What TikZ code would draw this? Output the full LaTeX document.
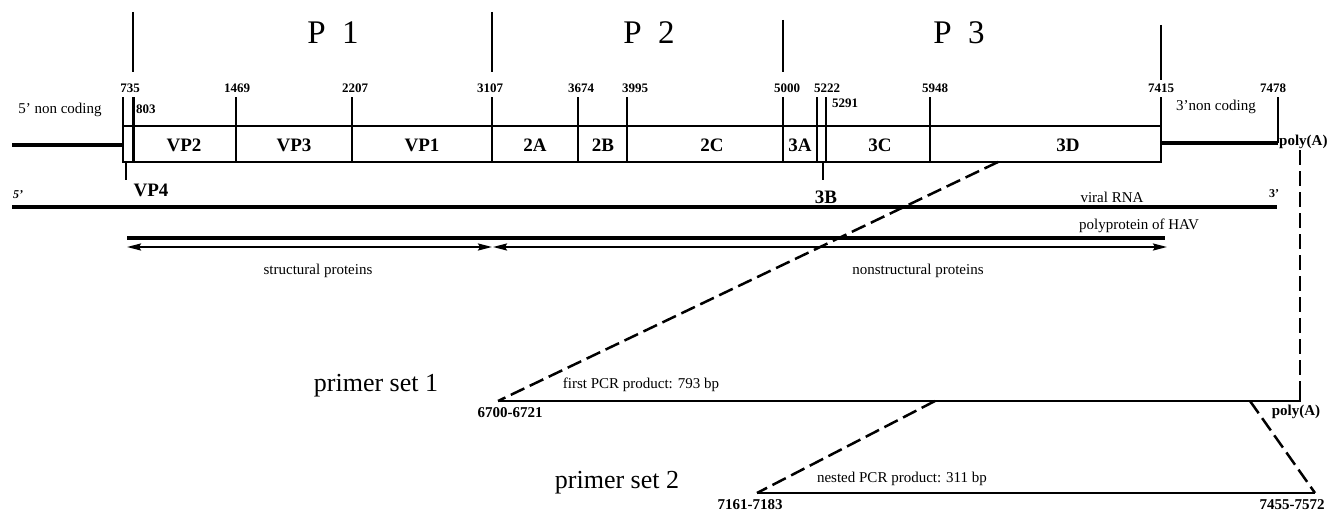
\documentclass[tikz,border=0pt]{standalone}
\usepackage{fontspec}
\setmainfont{Liberation Serif}
\usepackage{tikz}
\usetikzlibrary{arrows.meta}
\tikzset{
  num/.style={font=\fontsize{13}{13}\selectfont\bfseries, inner sep=0pt},
  seg/.style={font=\fontsize{19}{19}\selectfont\bfseries, inner sep=0pt},
  lbl/.style={font=\fontsize{15}{15}\selectfont, inner sep=0pt},
  big/.style={font=\fontsize{26}{26}\selectfont, inner sep=0pt},
  region/.style={font=\fontsize{33}{33}\selectfont, inner sep=0pt},
  site/.style={line width=2pt},
  rna/.style={line width=3.5pt},
  pcr/.style={line width=2.5pt, dash pattern=on 15pt off 6pt},
}
\begin{document}
\begin{tikzpicture}[x=1pt, y=-1pt, >={Stealth[length=14pt,width=7pt,inset=2pt]}]
  \useasboundingbox (0,0) rectangle (1328,511);
  % genome map
  \draw[site] (123,126) rectangle (1161,162);
  \foreach \x/\lx/\nt in {123/130/735, 236/237/1469, 352/355/2207, 492/490/3107, 578/581/3674,
      627/635/3995, 783/787/5000, 817/827/5222, 930/935/5948, 1161/1161/7415} {
    \draw[site] (\x,97) -- (\x,162);
    \node[num] (n\nt) at (\lx,88) {\nt};
  }
  \draw[line width=3pt] (133,97) -- (133,162);
  \draw[site] (826,97) -- (826,162);
  \node[num, anchor=west] (n803) at (136,109) {803};
  \node[num, anchor=west] (n5291) at (832,103) {5291};
  % P1 P2 P3
  \foreach \x/\y/\b in {133/12/72, 492/12/72, 783/20/72, 1161/25/80}
    \draw[site] (\x,\y) -- (\x,\b);
  \node[region] (p1) at (333,33) {P\hspace{0.5em}1};
  \node[region] (p2) at (649,33) {P\hspace{0.5em}2};
  \node[region] (p3) at (959,33) {P\hspace{0.5em}3};
  % non coding ends
  \draw[rna] (12,145) -- (123,145);
  \draw[rna] (1161,143) -- (1278,143);
  \draw[site] (1278,97) -- (1278,143);
  \node[num] (n7478) at (1273,88) {7478};
  \node[lbl] (nc5) at (60,110) {5' non coding};
  \node[lbl] (nc3) at (1216,107) {3'non coding};
  \node[num, font=\fontsize{15}{15}\selectfont\bfseries, anchor=west] (polyA) at (1279,142) {poly(A)};
  % segments
  \foreach \x/\t in {184/VP2, 294/VP3, 422/VP1, 535/2A, 603/2B, 712/2C, 800/3A, 880/3C, 1068/3D}
    \node[seg] (s\t) at (\x,145) {\t};
  \draw[site] (126,162) -- (126,180);
  \draw[site] (823,162) -- (823,180);
  \node[seg] (sVP4) at (151,190) {VP4};
  \node[seg] (s3B) at (826,197) {3B};
  % viral RNA
  \node[num, font=\fontsize{12}{12}\selectfont\bfseries\itshape] (r5) at (18,195) {5'};
  \node[num, font=\fontsize{12}{12}\selectfont\bfseries] (r3) at (1274,194) {3'};
  \node[lbl] (vrna) at (1112,197) {viral RNA};
  \draw[rna] (12,207) -- (1277,207);
  % polyprotein
  \draw[rna] (127,238) -- (1165,238);
  \node[lbl, anchor=west] (poly) at (1079,226) {polyprotein of HAV};
  \draw[<->, line width=2pt] (127,247) -- (492,247);
  \draw[<->, line width=2pt] (493,247) -- (1167,247);
  \node[lbl] (struct) at (318,271) {structural proteins};
  \node[lbl] (nonstruct) at (918,271) {nonstructural proteins};
  % primer set 1
  \coordinate (d3D) at (998,162);
  \coordinate (dA) at (1300,150);
  \coordinate (p1a) at (498,401);
  \coordinate (p1b) at (1300,401);
  \draw[site] (p1a) -- (p1b) -- (1300,390);
  \draw[pcr] (d3D) -- (p1a);
  \draw[pcr] (dA) -- (p1b);
  \node[big] (ps1) at (376,386) {primer set 1};
  \node[lbl] (prod1) at (641,385) {first PCR product: 793 bp};
  \node[num, font=\fontsize{15}{15}\selectfont\bfseries] (f1) at (510,413) {6700-6721};
  \node[num, font=\fontsize{15}{15}\selectfont\bfseries] (polyB) at (1296,412) {poly(A)};
  % primer set 2
  \coordinate (q1) at (935,401);
  \coordinate (q2) at (1250,401);
  \coordinate (p2a) at (757,493);
  \coordinate (p2b) at (1315,493);
  \draw[site] (p2a) -- (p2b);
  \draw[pcr] (q1) -- (p2a);
  \draw[pcr] (q2) -- (p2b);
  \node[big] (ps2) at (617,483) {primer set 2};
  \node[lbl] (prod2) at (902,479) {nested PCR product: 311 bp};
  \node[num, font=\fontsize{15}{15}\selectfont\bfseries] (f2) at (750,505) {7161-7183};
  \node[num, font=\fontsize{15}{15}\selectfont\bfseries] (r2) at (1292,505) {7455-7572};
\end{tikzpicture}
\end{document}
